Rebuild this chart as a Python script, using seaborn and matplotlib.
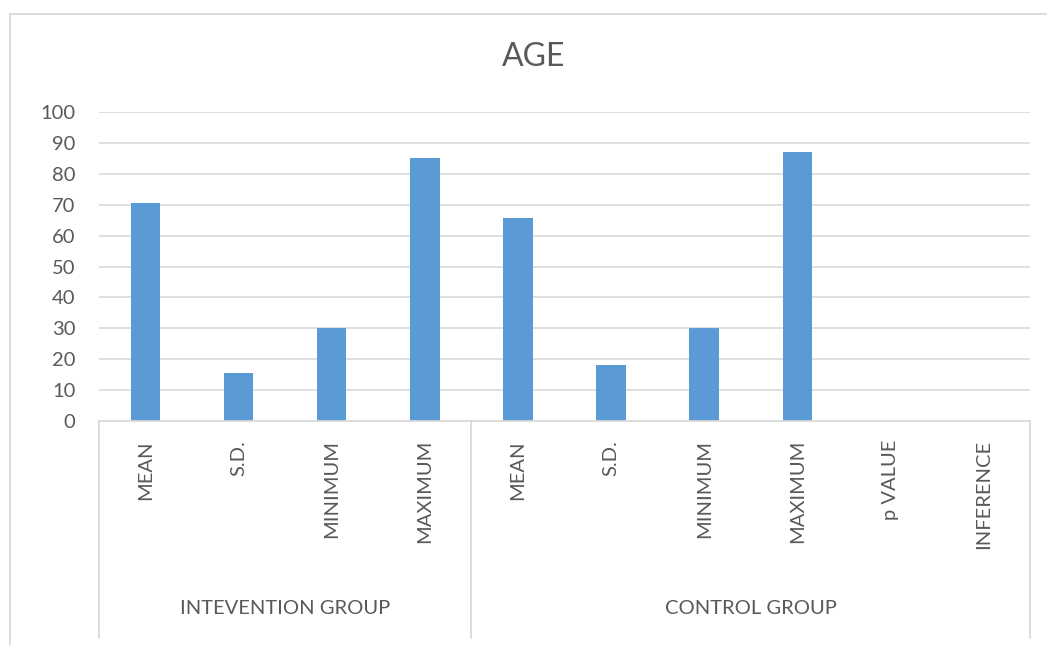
import matplotlib
matplotlib.use("Agg")
import matplotlib.pyplot as plt
import seaborn as sns
import pandas as pd
from matplotlib.lines import Line2D

title = "AGE"
groups = ["INTEVENTION GROUP", "CONTROL GROUP"]
group_sizes = [4, 6]
categories = ["MEAN", "S.D.", "MINIMUM", "MAXIMUM",
              "MEAN", "S.D.", "MINIMUM", "MAXIMUM", "p VALUE", "INFERENCE"]
values = [70.7, 15.5, 30, 85, 65.6, 18.0, 30, 87, 0.05, 0]
yticks = [0, 10, 20, 30, 40, 50, 60, 70, 80, 90, 100]

sns.set_theme(style="white")
plt.rcParams['font.family'] = ['Lato', 'DejaVu Sans']

W, H = 1047, 645
fig = plt.figure(figsize=(W / 100, H / 100), dpi=100)
left, right, top, bottom = 99, 1030, 112, 421
ax = fig.add_axes([left / W, 1 - bottom / H, (right - left) / W, (bottom - top) / H])

df = pd.DataFrame({"pos": [str(i) for i in range(len(categories))], "value": values})
sns.barplot(data=df, x="pos", y="value", color="#5b9bd5", saturation=1,
            width=0.315, ax=ax, edgecolor="none")

fs = 14.5
ax.set_ylim(0, 100)
ax.set_xlim(-0.5, len(categories) - 0.5)
ax.set_yticks(yticks)
ax.set_yticklabels([str(t) for t in yticks], fontsize=fs, color="#595959")
ax.tick_params(axis="y", length=0, pad=17)
ax.tick_params(axis="x", length=0)
ax.set_xticks([])
ax.set_xlabel("")
ax.set_ylabel("")
for y in yticks[1:]:
    ax.axhline(y, color="#d9d9d9", lw=1.2, zorder=0)
for s in ["left", "right", "top"]:
    ax.spines[s].set_visible(False)
ax.spines["bottom"].set_color("#d9d9d9")
ax.spines["bottom"].set_linewidth(1.3)

ax_h = bottom - top
def ay(py):
    return -(py - bottom) / ax_h

n = len(categories)
for i, c in enumerate(categories):
    ax.text((i + 0.5) / n, ay(440), c, transform=ax.transAxes, rotation=90,
            ha="center", va="top", fontsize=fs, color="#595959")

start = 0
for g, sz in zip(groups, group_sizes):
    ax.text((start + sz / 2) / n, ay(608), g, transform=ax.transAxes,
            ha="center", va="center", fontsize=fs, color="#595959")
    start += sz

b = 0
for sz in [0] + group_sizes:
    b += sz
    ax.add_line(Line2D([b / n, b / n], [0, ay(638)], transform=ax.transAxes,
                       color="#d9d9d9", lw=1.3, clip_on=False))

fig.text(534 / W, 1 - 57 / H, title, ha="center", va="center",
         fontsize=23, color="#595959")

fig.add_artist(Line2D([10 / W, 10 / W], [1 - 14 / H, 0], transform=fig.transFigure,
                      color="#d9d9d9", lw=1.3))
fig.add_artist(Line2D([10 / W, 1], [1 - 14 / H, 1 - 14 / H], transform=fig.transFigure,
                      color="#d9d9d9", lw=1.3))

fig.savefig("out.png", dpi=100, facecolor="white")
